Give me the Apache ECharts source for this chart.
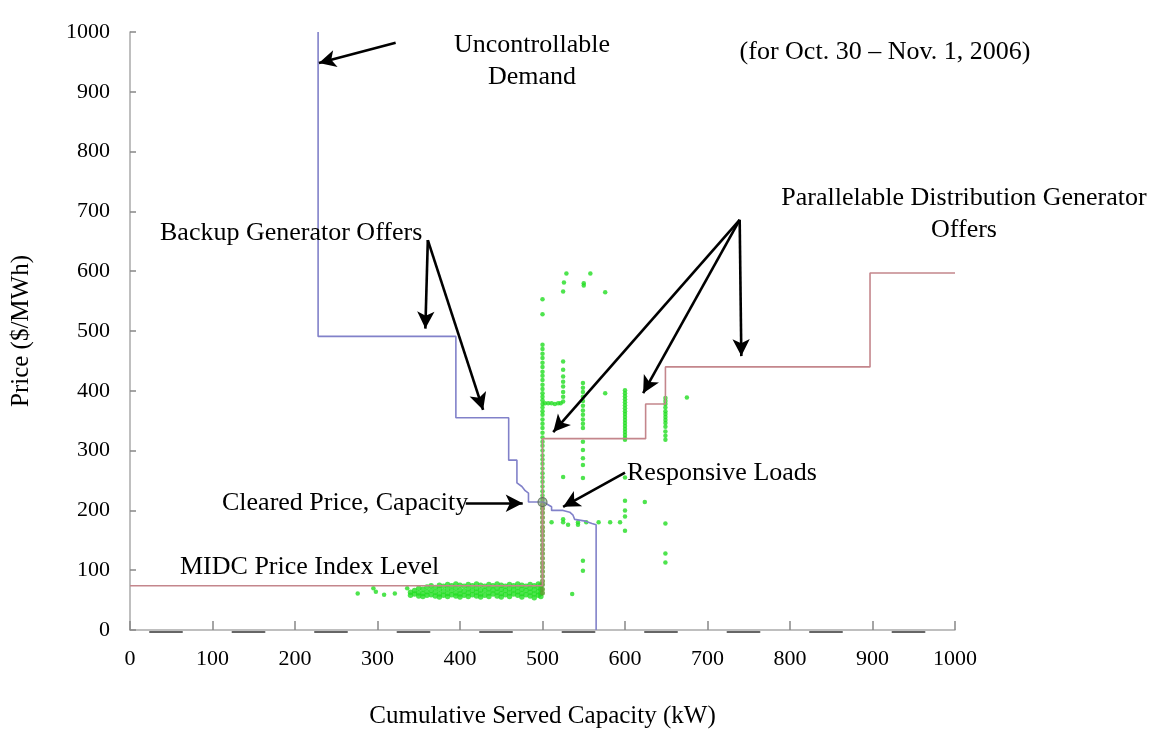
<!DOCTYPE html>
<html>
<head>
<meta charset="utf-8">
<script src="https://cdn.jsdelivr.net/npm/echarts@6/dist/echarts.min.js"></script>
<style>
html,body{margin:0;padding:0;background:#fff;}
#chart{width:1157px;height:734px;}
</style>
</head>
<body>
<div id="chart"></div>
<script>
// ---- Data (kW, $/MWh) ----
const demandCurve = [[228,1000],[228,491],[395,491],[395,355],[459,355],[459,284],[469,284],[469,246],[475,240],[479,233],[483,229],[483,214],[501,214],[511,206],[511,200],[525,200],[533,197],[537,192],[539,185],[552,182],[560,178],[565,176],[565,0]];
const supplyCurve = [[0,74],[500,74],[500,320],[625,320],[625,378],[649,378],[649,440],[897,440],[897,597],[1000,597]];
const clearedPoint = [[500,214]];

// Responsive load bids (green dots)
const col500Upper = [553,528,477,470,462,455,447,440,432,425,418,410,403,396,390,384,378,372,366,360,352,345,338,330,322,315,308,300,292,285,278,270,262,255,248,240,232,225,218];
const col500Lower = [210,203,196,188,180,172,165,158,150,142,135,128,120,112,105,98,90,82,76,68,62];
const highBids = [[529,596],[558,596],[526,581],[550,580],[550,576],[525,566],[576,565]];
const col525 = [[525,449],[525,435],[525,424],[525,415],[525,407],[525,398],[525,390],[525,382],[525,256],[525,185]];
const row379 = [[503,379],[507,379],[511,379],[515,378],[519,379],[522,379]];
const col549 = [[549,413],[549,405],[549,398],[549,390],[549,383],[549,375],[549,367],[549,360],[549,352],[549,345],[549,338],[549,315],[549,301],[549,287],[549,276],[549,254],[549,116],[549,99]];
const col600 = [[600,401],[600,396],[600,391],[600,386],[600,381],[600,376],[600,371],[600,366],[600,361],[600,356],[600,351],[600,346],[600,341],[600,336],[600,331],[600,326],[600,321],[600,318],[600,255],[600,216],[600,200],[600,190],[600,166]];
const col649 = [[649,388],[649,383],[649,378],[649,372],[649,366],[649,361],[649,356],[649,351],[649,346],[649,340],[649,332],[649,325],[649,318],[649,178],[649,128],[649,113]];
const row180 = [[511,180],[525,180],[543,180],[553,180],[568,180],[582,180],[594,180],[531,176],[543,176]];
const scatteredBids = [[576,396],[675,389],[624,214],[536,60]];
const lowSparse = [[276,61],[295,70],[298,64],[308,59],[321,61],[336,70]];
const lowBand = [
 [340,63],[340,58],[345,66],[345,60],[350,70],[350,62],[350,57],[355,68],[355,61],[355,56],
 [360,72],[360,64],[360,58],[365,74],[365,66],[365,59],[370,71],[370,63],[370,57],
 [375,75],[375,68],[375,60],[375,55],[380,73],[380,65],[380,58],[385,76],[385,69],[385,61],[385,56],
 [390,74],[390,66],[390,59],[395,77],[395,70],[395,62],[395,57],[400,75],[400,67],[400,60],[400,55],
 [405,73],[405,65],[405,58],[410,76],[410,69],[410,62],[410,56],[415,74],[415,66],[415,59],
 [420,77],[420,70],[420,63],[420,57],[425,75],[425,67],[425,60],[425,55],[430,73],[430,66],[430,58],
 [435,76],[435,69],[435,62],[435,56],[440,74],[440,67],[440,60],[445,77],[445,70],[445,63],[445,57],
 [450,75],[450,68],[450,61],[450,55],[455,73],[455,66],[455,59],[460,76],[460,69],[460,62],[460,56],
 [465,74],[465,67],[465,60],[470,77],[470,71],[470,64],[470,58],[475,75],[475,68],[475,61],[475,55],
 [480,73],[480,66],[480,59],[485,76],[485,70],[485,63],[485,57],[490,74],[490,67],[490,60],[490,54],
 [495,77],[495,71],[495,64],[495,58],[498,75],[498,68],[498,61],[498,56]
];

// Annotation arrows (tail -> head), in data coordinates
const arrows = [
 [[322,982],[229,948]],
 [[361,652],[358,504]],
 [[361,652],[428,368]],
 [[407,212],[476,212]],
 [[600,263],[525,206]],
 [[739,686],[513,331]],
 [[739,686],[622,396]],
 [[739,686],[741,458]]
];

const brightGreen = col500Upper.map(p => [500, p])
  .concat(highBids, col525, row379, col549, col600, col649, row180, scatteredBids, lowSparse);
const oliveGreen = col500Lower.map(p => [500, p]);

const serif = '"Liberation Serif", "Times New Roman", serif';
const chart = echarts.init(document.getElementById('chart'), null, {renderer: 'canvas'});

function txt(text, x, y, align) {
  return {type: 'text', x: x, y: y, z: 100,
    style: {text: text, font: '26px ' + serif, fill: '#000', align: align || 'center', verticalAlign: 'middle'}};
}

const option = {
  animation: false,
  backgroundColor: '#fff',
  grid: {left: 130, right: 202, top: 32, bottom: 104},
  xAxis: [{
    type: 'value', min: 0, max: 1000, interval: 100,
    name: 'Cumulative Served Capacity (kW)', nameLocation: 'middle', nameGap: 74,
    nameTextStyle: {fontFamily: serif, fontSize: 25, color: '#000'},
    axisLine: {lineStyle: {color: '#aaa', width: 1.5}},
    axisTick: {inside: true, length: 9, lineStyle: {color: '#888', width: 1.5}},
    axisLabel: {fontFamily: serif, fontSize: 22, color: '#000', margin: 18, formatter: v => String(v)},
    splitLine: {show: false}
  }, {
    type: 'value', min: 0, max: 1000, position: 'bottom', offset: 2,
    axisLine: {lineStyle: {color: '#666', width: 2, type: [32, 50.5], dashOffset: 62.5}},
    axisTick: {show: false}, axisLabel: {show: false}, splitLine: {show: false}
  }],
  yAxis: {
    type: 'value', min: 0, max: 1000, interval: 100,
    name: 'Price ($/MWh)', nameLocation: 'middle', nameGap: 96, nameRotate: 90,
    nameTextStyle: {fontFamily: serif, fontSize: 25, color: '#000'},
    axisLine: {show: true, lineStyle: {color: '#aaa', width: 1.5}},
    axisTick: {show: true, inside: true, length: 6, lineStyle: {color: '#888', width: 1.5}},
    axisLabel: {fontFamily: serif, fontSize: 22, color: '#000', margin: 20, formatter: v => String(v)},
    splitLine: {show: false}
  },
  series: [
    {type: 'scatter', name: 'band', data: lowBand, symbolSize: 5.5,
     itemStyle: {color: '#22dd22'}, z: 2, silent: true},
    {type: 'scatter', name: 'bids', data: brightGreen, symbolSize: 4.5,
     itemStyle: {color: '#22dd22'}, z: 2, silent: true},
    {type: 'scatter', name: 'bids2', data: oliveGreen, symbolSize: 5,
     itemStyle: {color: '#5e9a30'}, z: 2, silent: true},
    {type: 'line', name: 'supply', data: supplyCurve, showSymbol: false, symbol: 'none',
     lineStyle: {color: '#c4868c', width: 1.6}, z: 3,
     markLine: {
       silent: true, symbol: ['none', 'arrow'], symbolSize: [13, 17],
       lineStyle: {color: '#000', width: 2.6, type: 'solid'},
       itemStyle: {color: '#000'},
       label: {show: false}, emphasis: {disabled: true},
       data: arrows.map(a => [{coord: a[0]}, {coord: a[1]}])
     }},
    {type: 'line', name: 'demand', data: demandCurve, showSymbol: false, symbol: 'none',
     lineStyle: {color: '#8181c9', width: 1.6}, z: 4},
    {type: 'scatter', name: 'cleared', data: clearedPoint, symbolSize: 9,
     itemStyle: {color: 'rgba(120,150,110,0.6)', borderColor: '#556655', borderWidth: 1.2}, z: 5}
  ],
  graphic: [
    txt('Uncontrollable', 532, 45),
    txt('Demand', 532, 77),
    txt('(for Oct. 30 \u2013 Nov. 1, 2006)', 885, 52),
    txt('Parallelable Distribution Generator', 964, 198),
    txt('Offers', 964, 230),
    txt('Backup Generator Offers', 160, 233, 'left'),
    txt('Responsive Loads', 627, 473, 'left'),
    txt('Cleared Price, Capacity', 222, 503, 'left'),
    txt('MIDC Price Index Level', 180, 567, 'left')
  ]
};
chart.setOption(option);
</script>
</body>
</html>
